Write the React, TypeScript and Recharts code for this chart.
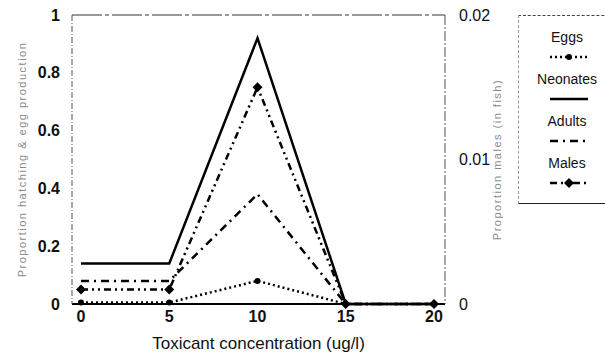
import { LineChart, Line, XAxis, YAxis, ReferenceLine } from 'recharts'

const concentrations = [0, 5, 10, 15, 20]
const eggs = [0.005, 0.005, 0.08, 0, 0]
const neonates = [0.14, 0.14, 0.92, 0, 0]
const adults = [0.08, 0.08, 0.38, 0, 0]
// males are read against the right-hand axis
const males = [0.001, 0.001, 0.015, 0, 0]

const xTicks = [0, 5, 10, 15, 20]
const leftTicks = [0, 0.2, 0.4, 0.6, 0.8, 1]
const rightTicks = [0, 0.01, 0.02]

const data = concentrations.map((c, i) => ({
  conc: c,
  eggs: eggs[i],
  neonates: neonates[i],
  adults: adults[i],
  males: males[i],
}))

const FONT = '"Liberation Sans", Arial, sans-serif'

const tickStyle = { fontFamily: FONT, fontSize: 16, fontWeight: 700, fill: '#111' }
const sideLabelStyle = { fontFamily: FONT, fontSize: 11, letterSpacing: 1.5, fill: '#8a8a8a' }

const EggDot = (props: any) => {
  const { cx, cy } = props
  if (cx == null || cy == null) return null
  return <circle cx={cx} cy={cy} r={3} fill="#000" />
}

const MaleDot = (props: any) => {
  const { cx, cy } = props
  if (cx == null || cy == null) return null
  const s = 5
  return <polygon points={`${cx},${cy - s} ${cx + s},${cy} ${cx},${cy + s} ${cx - s},${cy}`} fill="#000" />
}

const legendItems = [
  { name: 'Eggs', dash: '2 3', marker: 'circle' },
  { name: 'Neonates', dash: undefined, marker: 'none' },
  { name: 'Adults', dash: '8 5 2 5', marker: 'none' },
  { name: 'Males', dash: '7 4 2 4 2 4', marker: 'diamond' },
]

function LegendBox() {
  return (
    <div
      style={{
        position: 'absolute',
        left: 518,
        top: 15,
        width: 100,
        height: 187,
        borderTop: '1px dashed #444',
        borderBottom: '1px solid #222',
        borderLeft: '1px dashed #999',
        fontFamily: FONT,
        fontSize: 14,
        color: '#111',
      }}
    >
      {legendItems.map((item, i) => (
        <div key={item.name} style={{ position: 'absolute', left: 0, top: 12 + i * 42, width: 96, textAlign: 'center' }}>
          <div style={{ lineHeight: '18px' }}>{item.name}</div>
          <svg width={96} height={16} style={{ display: 'block', marginTop: 3 }}>
            <line x1={31} x2={69} y1={8} y2={8} stroke="#000" strokeWidth={2.5} strokeDasharray={item.dash} />
            {item.marker === 'circle' && <circle cx={50} cy={8} r={3} fill="#000" />}
            {item.marker === 'diamond' && <polygon points="50,3 55,8 50,13 45,8" fill="#000" />}
          </svg>
        </div>
      ))}
    </div>
  )
}

export default function App() {
  return (
    <div style={{ position: 'absolute', left: 0, top: 0, width: 605, height: 357, background: '#fff' }}>
      <LineChart width={605} height={357} data={data} margin={{ top: 15, right: 100, left: 0, bottom: 0 }}>
        <XAxis
          dataKey="conc"
          type="number"
          domain={[0, 20]}
          ticks={xTicks}
          padding={{ left: 9, right: 11 }}
          height={53}
          tickLine={false}
          tickMargin={1}
          axisLine={{ stroke: '#000', strokeWidth: 2 }}
          tick={tickStyle}
          label={{
            value: 'Toxicant concentration (ug/l)',
            position: 'insideBottom',
            offset: 8,
            style: { fontFamily: FONT, fontSize: 17, fill: '#111' },
          }}
        />
        <YAxis
          yAxisId="left"
          type="number"
          domain={[0, 1]}
          ticks={leftTicks}
          width={72}
          tickLine={false}
          tickMargin={6}
          axisLine={{ stroke: '#555', strokeDasharray: '6 2 1 2' }}
          tick={tickStyle}
          tickFormatter={(v: number) => String(v)}
          label={{
            value: 'Proportion hatching & egg production',
            angle: -90,
            position: 'center',
            dx: -14,
            style: sideLabelStyle,
          }}
        />
        <YAxis
          yAxisId="right"
          type="number"
          orientation="right"
          domain={[0, 0.02]}
          ticks={rightTicks}
          width={60}
          tickLine={false}
          tickMargin={8}
          axisLine={{ stroke: '#555', strokeDasharray: '10 2 2 2' }}
          tick={{ ...tickStyle, fontWeight: 400 }}
          tickFormatter={(v: number) => String(v)}
          label={{
            value: 'Proportion males (in fish)',
            angle: -90,
            position: 'center',
            dx: 22,
            style: sideLabelStyle,
          }}
        />
        <ReferenceLine yAxisId="left" y={1} stroke="#333" strokeDasharray="30 3 4 3" />
        <Line
          yAxisId="left"
          dataKey="neonates"
          stroke="#000"
          strokeWidth={2.5}
          dot={false}
          isAnimationActive={false}
        />
        <Line
          yAxisId="right"
          dataKey="males"
          stroke="#000"
          strokeWidth={2.5}
          strokeDasharray="7 4 2 4 2 4"
          dot={MaleDot}
          isAnimationActive={false}
        />
        <Line
          yAxisId="left"
          dataKey="adults"
          stroke="#000"
          strokeWidth={2.5}
          strokeDasharray="8 5 2 5"
          dot={false}
          isAnimationActive={false}
        />
        <Line
          yAxisId="left"
          dataKey="eggs"
          stroke="#000"
          strokeWidth={2.5}
          strokeDasharray="2 3"
          dot={EggDot}
          isAnimationActive={false}
        />
      </LineChart>
      <LegendBox />
    </div>
  )
}
